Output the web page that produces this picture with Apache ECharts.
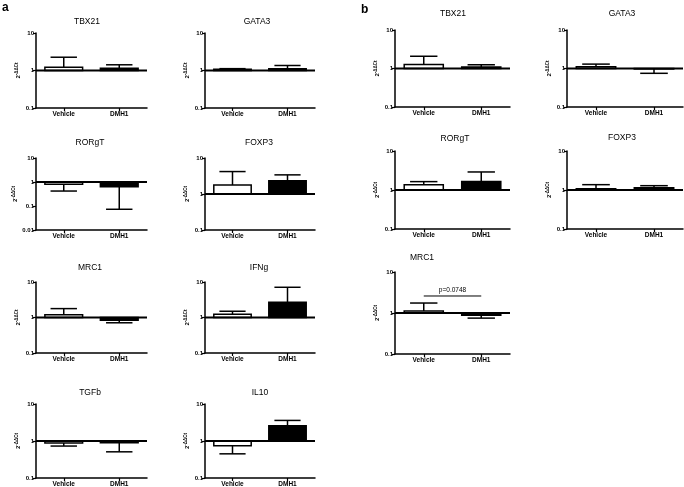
<!DOCTYPE html>
<html><head><meta charset="utf-8">
<script src="https://cdn.jsdelivr.net/npm/echarts@6/dist/echarts.min.js"></script>
<style>html,body{margin:0;padding:0;background:#fff}#c{width:684px;height:487px}</style>
</head><body><div id="c"></div>
<script>
// ---- data ----
const categories = ['Vehicle', 'DMH1'];
// panel a
const aTBX21 = [1.22, 1.15],  aTBX21Err = [2.26, 1.42];
const aGATA3 = [1.08, 1.12],  aGATA3Err = [1.12, 1.36];
const aRORgT = [0.80, 0.64],  aRORgTErr = [0.42, 0.073];
const aFOXP3 = [1.78, 2.34],  aFOXP3Err = [4.2, 3.4];
const aMRC1  = [1.19, 0.84],  aMRC1Err  = [1.78, 0.71];
const aIFNg  = [1.24, 2.68],  aIFNgErr  = [1.5, 7.1];
const aTGFb  = [0.88, 0.90],  aTGFbErr  = [0.73, 0.51];
const aIL10  = [0.74, 2.6],   aIL10Err  = [0.45, 3.6];
// panel b
const bTBX21 = [1.27, 1.10],  bTBX21Err = [2.08, 1.25];
const bGATA3 = [1.11, 0.97],  bGATA3Err = [1.3, 0.75];
const bRORgT = [1.37, 1.64],  bRORgTErr = [1.64, 2.9];
const bFOXP3 = [1.08, 1.15],  bFOXP3Err = [1.37, 1.29];
const bMRC1  = [1.12, 0.88],  bMRC1Err  = [1.75, 0.75];
const bMRC1PLevel = 2.6, bMRC1PText = 'p=0.0748';

// ---- layout ----
const panels = [
  {t:'TBX21', m:aTBX21, e:aTBX21Err, min:0.1, L:36,  W:111, T:33,  B:108, tx:87,  ty:22,  ng:13},
  {t:'GATA3', m:aGATA3, e:aGATA3Err, min:0.1, L:205, W:110, T:33,  B:108, tx:257, ty:22,  ng:8},
  {t:'RORgT', m:aRORgT, e:aRORgTErr, min:0.01,L:36,  W:111, T:158, B:230, tx:90,  ty:143, ng:13},
  {t:'FOXP3', m:aFOXP3, e:aFOXP3Err, min:0.1, L:205, W:110, T:158, B:230, tx:259, ty:143, ng:8},
  {t:'MRC1',  m:aMRC1,  e:aMRC1Err,  min:0.1, L:36,  W:111, T:282, B:353, tx:90,  ty:268, ng:13},
  {t:'IFNg',  m:aIFNg,  e:aIFNgErr,  min:0.1, L:205, W:110, T:282, B:353, tx:259, ty:268, ng:8},
  {t:'TGFb',  m:aTGFb,  e:aTGFbErr,  min:0.1, L:36,  W:111, T:404, B:478, tx:90,  ty:393, ng:13},
  {t:'IL10',  m:aIL10,  e:aIL10Err,  min:0.1, L:205, W:110, T:404, B:478, tx:260, ty:393, ng:8},
  {t:'TBX21', m:bTBX21, e:bTBX21Err, min:0.1, L:395, W:115, T:30,  B:107, tx:453, ty:14,  ng:13},
  {t:'GATA3', m:bGATA3, e:bGATA3Err, min:0.1, L:567, W:116, T:30,  B:107, tx:622, ty:14,  ng:10},
  {t:'RORgT', m:bRORgT, e:bRORgTErr, min:0.1, L:395, W:115, T:151, B:229, tx:455, ty:139, ng:13},
  {t:'FOXP3', m:bFOXP3, e:bFOXP3Err, min:0.1, L:567, W:116, T:151, B:229, tx:622, ty:138, ng:10},
  {t:'MRC1',  m:bMRC1,  e:bMRC1Err,  min:0.1, L:395, W:115, T:272, B:354, tx:422, ty:258, ng:13}
];
const FONT = 'Liberation Sans, Arial, sans-serif';

function renderBars(params, api) {
  const i = api.value(0), mean = api.value(1), err = api.value(2);
  const c0 = api.coord([i, 1]);
  const cm = api.coord([i, mean]);
  const ce = api.coord([i, err]);
  const band = Math.abs(api.coord([1, 1])[0] - api.coord([0, 1])[0]);
  const bw = band * 0.68, cw = bw * 0.7, x = c0[0];
  const ch = [
    {type:'line', shape:{x1:x, y1:cm[1], x2:x, y2:ce[1]}, style:{stroke:'#000', lineWidth:1.5}},
    {type:'line', shape:{x1:x-cw/2, y1:ce[1], x2:x+cw/2, y2:ce[1]}, style:{stroke:'#000', lineWidth:1.5}},
    {type:'rect', shape:{x:x-bw/2, y:Math.min(c0[1], cm[1]), width:bw, height:Math.abs(cm[1]-c0[1])},
     style:{fill: i === 0 ? '#fff' : '#000', stroke:'#000', lineWidth:1.5}}
  ];
  if (i === 0) {
    const cs = params.coordSys;
    ch.push({type:'line', z2:10, shape:{x1:cs.x, y1:c0[1], x2:cs.x+cs.width, y2:c0[1]}, style:{stroke:'#000', lineWidth:2}});
  }
  return {type:'group', children: ch};
}

function renderP(params, api) {
  const lvl = api.value(1);
  const p0 = api.coord([0, lvl]), p1 = api.coord([1, lvl]);
  return {type:'group', children:[
    {type:'line', shape:{x1:p0[0], y1:p0[1], x2:p1[0], y2:p1[1]}, style:{stroke:'#000', lineWidth:1}},
    {type:'text', x:(p0[0]+p1[0])/2, y:p0[1]-2, style:{text:bMRC1PText, align:'center', verticalAlign:'bottom', font:'6.5px ' + FONT, fill:'#000'}}
  ]};
}

const grid = [], xAxis = [], yAxis = [], series = [], graphic = [];
panels.forEach((p, k) => {
  grid.push({left:p.L, top:p.T, width:p.W, height:p.B - p.T, outerBoundsMode:'none', containLabel:false});
  xAxis.push({type:'category', gridIndex:k, data:categories,
    axisLine:{show:true, lineStyle:{color:'#000', width:1.5}},
    axisTick:{show:true, alignWithLabel:true, length:3, lineStyle:{color:'#000', width:1.2}},
    axisLabel:{color:'#000', fontSize:6.5, fontWeight:'bold', fontFamily:FONT, margin:3}});
  yAxis.push({type:'log', logBase:10, gridIndex:k, min:p.min, max:10,
    name:'{n|2}{s|-ΔΔCt}', nameLocation:'middle', nameGap:p.ng, nameRotate:90,
    nameTextStyle:{color:'#000', fontFamily:FONT, fontWeight:'bold',
      rich:{n:{fontSize:6, fontWeight:'bold', fontFamily:FONT, color:'#000'},
            s:{fontSize:4.5, fontWeight:'bold', fontFamily:FONT, color:'#000', padding:[0,0,3,0]}}},
    splitLine:{show:false},
    axisLine:{show:true, lineStyle:{color:'#000', width:1.5}},
    axisTick:{show:true, length:3, lineStyle:{color:'#000', width:1.2}},
    axisLabel:{color:'#000', fontSize:6, fontWeight:'bold', fontFamily:FONT, margin:2}});
  series.push({type:'custom', xAxisIndex:k, yAxisIndex:k, renderItem:renderBars, clip:false,
    data: categories.map((c, i) => [i, p.m[i], p.e[i]])});
  graphic.push({type:'text', x:p.tx, y:p.ty, style:{text:p.t, align:'center', verticalAlign:'middle', font:'8.5px ' + FONT, fill:'#000'}});
});
series.push({type:'custom', xAxisIndex:12, yAxisIndex:12, renderItem:renderP, clip:false, data:[[0, bMRC1PLevel]]});
graphic.push({type:'text', x:2, y:8, style:{text:'a', align:'left', verticalAlign:'middle', font:'bold 12px ' + FONT, fill:'#000'}});
graphic.push({type:'text', x:361, y:10, style:{text:'b', align:'left', verticalAlign:'middle', font:'bold 12px ' + FONT, fill:'#000'}});

const chart = echarts.init(document.getElementById('c'), null, {renderer:'canvas'});
chart.setOption({animation:false, backgroundColor:'#fff', grid, xAxis, yAxis, series, graphic});
</script>
</body></html>
